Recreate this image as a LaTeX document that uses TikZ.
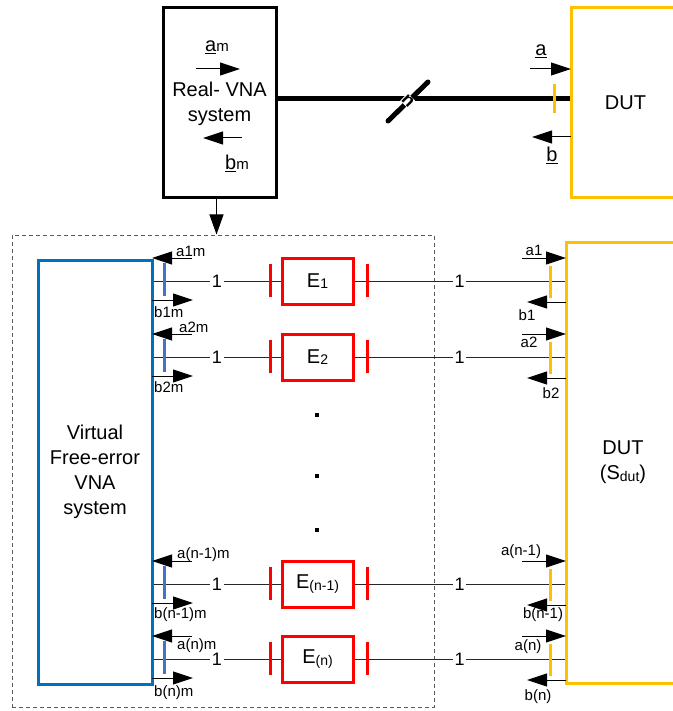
\documentclass[tikz,border=0pt]{standalone}
\usepackage{fontspec}
\setmainfont{Liberation Sans}
\usetikzlibrary{arrows.meta, positioning}
\definecolor{DutOrange}{HTML}{FFC000}
\definecolor{VnaBlue}{HTML}{0070C0}
\definecolor{PortBlue}{HTML}{4472C4}
\definecolor{ErrRed}{HTML}{FF0000}
\definecolor{FrameGray}{HTML}{595959}
\newcommand{\bigtxt}{\fontsize{20}{25}\selectfont}
\newcommand{\smalltxt}{\fontsize{15}{17}\selectfont}
\newcommand{\lowtxt}[1]{\raisebox{-1.5pt}{\fontsize{14}{14}\selectfont #1}}
\tikzset{
    % Boxes
    realbox/.style={
        rectangle,
        draw=black,
        line width=3pt,
        minimum width=113pt,
        minimum height=190pt,
        inner sep=0pt
    },
    dutbox/.style={
        rectangle,
        draw=DutOrange,
        line width=3pt,
        inner sep=0pt,
        align=center,
        font=\bigtxt
    },
    virtbox/.style={
        rectangle,
        draw=VnaBlue,
        line width=3pt,
        minimum width=114pt,
        minimum height=424pt,
        align=center,
        font=\bigtxt
    },
    errbox/.style={
        rectangle,
        draw=ErrRed,
        line width=3pt,
        minimum width=71pt,
        minimum height=46pt,
        inner sep=0pt,
        font=\bigtxt
    },
    framebox/.style={
        rectangle,
        draw=FrameGray,
        line width=1pt,
        dash pattern=on 4pt off 3pt,
        minimum width=422pt,
        minimum height=472pt
    },
    dotmark/.style={
        rectangle,
        fill=black,
        minimum size=4pt,
        inner sep=0pt
    },
    % Ticks and lines
    bluetick/.style={draw=PortBlue, line width=3pt},
    orangetick/.style={draw=DutOrange, line width=3pt},
    redtick/.style={draw=ErrRed, line width=3pt},
    portline/.style={draw=black!85, line width=1pt},
    onelabel/.style={fill=white, inner sep=1.5pt, font=\fontsize{18}{18}\selectfont},
    siglabel/.style={inner sep=0pt, font=\smalltxt},
    % Arrow styles
    sigarrow/.style={-{Triangle[length=20pt, width=13pt]}, line width=1pt},
    myarrow/.style={-{Triangle[length=20pt, width=14pt]}, line width=1pt}
}

\begin{document}
\begin{tikzpicture}[x=1pt, y=-1pt]
    \useasboundingbox (0,0) rectangle (672,711);

    % real set-up
    \node[realbox] (real) at (219.5,103) {};
    \node[font=\bigtxt, align=center] (realtxt) at (219.5,104) {Real- VNA\\system};
    \node[dutbox, minimum width=109pt, minimum height=190pt] (dut) at (625.5,103) {DUT};
    \draw[line width=5pt] ([yshift=4pt]real.east) -- ([yshift=4pt]dut.west);
    \draw[line width=5pt, line cap=round] (388,121) -- (428,82);
    \node[rotate=-45, fill=white, inner sep=0.3pt, font=\fontsize{18}{18}\selectfont\bfseries] (nlbl) at (408,101) {n};
    \draw[orangetick] (554,84) -- (554,113);

    \draw[sigarrow] (196,69) -- (240,69);
    \node[font=\bigtxt] (am) at (217,47) {\underline{a}\smalltxt m};
    \draw[sigarrow] (242,138) -- (203,138);
    \node[font=\bigtxt] (bm) at (237,163) {\underline{b}\smalltxt m};
    \draw[sigarrow] (530,69) -- (571,69);
    \node[font=\bigtxt] (a) at (541,51) {\underline{a}};
    \draw[sigarrow] (571,137) -- (532,137);
    \node[font=\bigtxt] (b) at (552,155) {\underline{b}};

    % virtual set-up
    \node[framebox] (frame) at (223,471) {};
    \draw[myarrow] ([xshift=-3pt]real.south) -- ([xshift=-3pt]real.south |- frame.north);
    \node[virtbox] (virt) at (95,472) {Virtual\\Free-error\\VNA\\system};
    \node[dutbox, minimum width=114pt, minimum height=441pt] (sdut) at (623,462.5) {DUT\\(S\lowtxt{dut})};

    \foreach \row/\ypos/\sub in {1/281/1, 2/357/2, 3/584/(n-1), 4/659/(n)} {
        \node[errbox] (err\row) at (317.5,\ypos) {E\lowtxt{\sub}};
        \draw[portline] (virt.east |- err\row) -- node[onelabel] {1} (err\row);
        \draw[portline] (err\row) -- node[onelabel] {1} (sdut.west |- err\row);
        \draw[bluetick] (164,\ypos-18) -- (164,\ypos+15);
        \draw[redtick] (270,\ypos-17) -- (270,\ypos+16);
        \draw[redtick] (367,\ypos-17) -- (367,\ypos+16);
        \draw[orangetick] (550,\ypos-15) -- (550,\ypos+17);
        \draw[sigarrow] (192,\ypos-23) -- (152,\ypos-23);
        \draw[sigarrow] (152,\ypos+19) -- (193,\ypos+19);
        \draw[sigarrow] (522,\ypos-23) -- (566,\ypos-23);
        \draw[sigarrow] (566,\ypos+21) -- (527,\ypos+21);
    }

    \node[dotmark] (dot1) at (317,415) {};
    \node[dotmark] (dot2) at (317,476) {};
    \node[dotmark] (dot3) at (317,530) {};

    % wave labels
    \node[siglabel, anchor=west] (a1m) at (176,251) {a1m};
    \node[siglabel, anchor=west] (b1m) at (154,312) {b1m};
    \node[siglabel, anchor=west] (a2m) at (179,327) {a2m};
    \node[siglabel, anchor=west] (b2m) at (154,387) {b2m};
    \node[siglabel, anchor=west] (an1m) at (177,555) {a(n-1)m};
    \node[siglabel, anchor=west] (bn1m) at (154,615) {b(n-1)m};
    \node[siglabel, anchor=west] (anm) at (177,646) {a(n)m};
    \node[siglabel, anchor=west] (bnm) at (154,693) {b(n)m};

    \node[siglabel] (a1) at (534,250) {a1};
    \node[siglabel] (b1) at (527,315) {b1};
    \node[siglabel] (a2) at (529,342) {a2};
    \node[siglabel] (b2) at (551,393) {b2};
    \node[siglabel] (an1) at (521,552) {a(n-1)};
    \node[siglabel] (bn1) at (543,615) {b(n-1)};
    \node[siglabel] (an) at (528,647) {a(n)};
    \node[siglabel] (bn) at (538,697) {b(n)};
\end{tikzpicture}
\end{document}
